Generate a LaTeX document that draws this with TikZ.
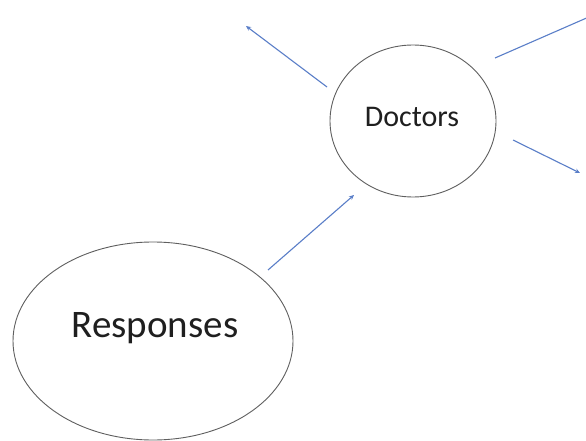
\documentclass[tikz,border=0pt]{standalone}
\usepackage{fontspec}
\setmainfont{Carlito}
\usetikzlibrary{arrows.meta,shapes.geometric}
\definecolor{linkblue}{RGB}{90,126,200}
\definecolor{rimgray}{RGB}{95,95,95}
\tikzset{
  bubble/.style={draw=rimgray, line width=0.9pt, ellipse, inner sep=0pt},
  bubbletext/.style={text=black!88, inner sep=0pt},
  link/.style={draw=linkblue, line width=1.1pt, -{Stealth[length=5pt,width=4.5pt]}},
}
\begin{document}
\begin{tikzpicture}[x=1pt,y=-1pt]
\useasboundingbox (0,0) rectangle (586,441);
\clip (0,0) rectangle (586,441);
\fill[white] (0,0) rectangle (586,441);
\node[bubble, minimum width=166pt, minimum height=152pt] (doc) at (413,121) {};
\node[bubble, minimum width=280pt, minimum height=198pt] (resp) at (153,341) {};
\node[bubbletext, font=\fontsize{30}{34}\selectfont, anchor=base] (docl) at (412,127) {Doctors};
\node[bubbletext, font=\fontsize{39}{44}\selectfont, anchor=base] (respl) at (155,337) {Responses};
\coordinate (r1) at (268,270);
\coordinate (d1) at (354,195);
\coordinate (d2s) at (327,87);
\coordinate (d2e) at (246,26);
\coordinate (d3s) at (495,58);
\coordinate (d3e) at (598,13);
\coordinate (d4s) at (513,140);
\coordinate (d4e) at (580,173);
\draw[link] (r1) -- (d1);
\draw[link] (d2s) -- (d2e);
\draw[link] (d3s) -- (d3e);
\draw[link] (d4s) -- (d4e);
\end{tikzpicture}
\end{document}
